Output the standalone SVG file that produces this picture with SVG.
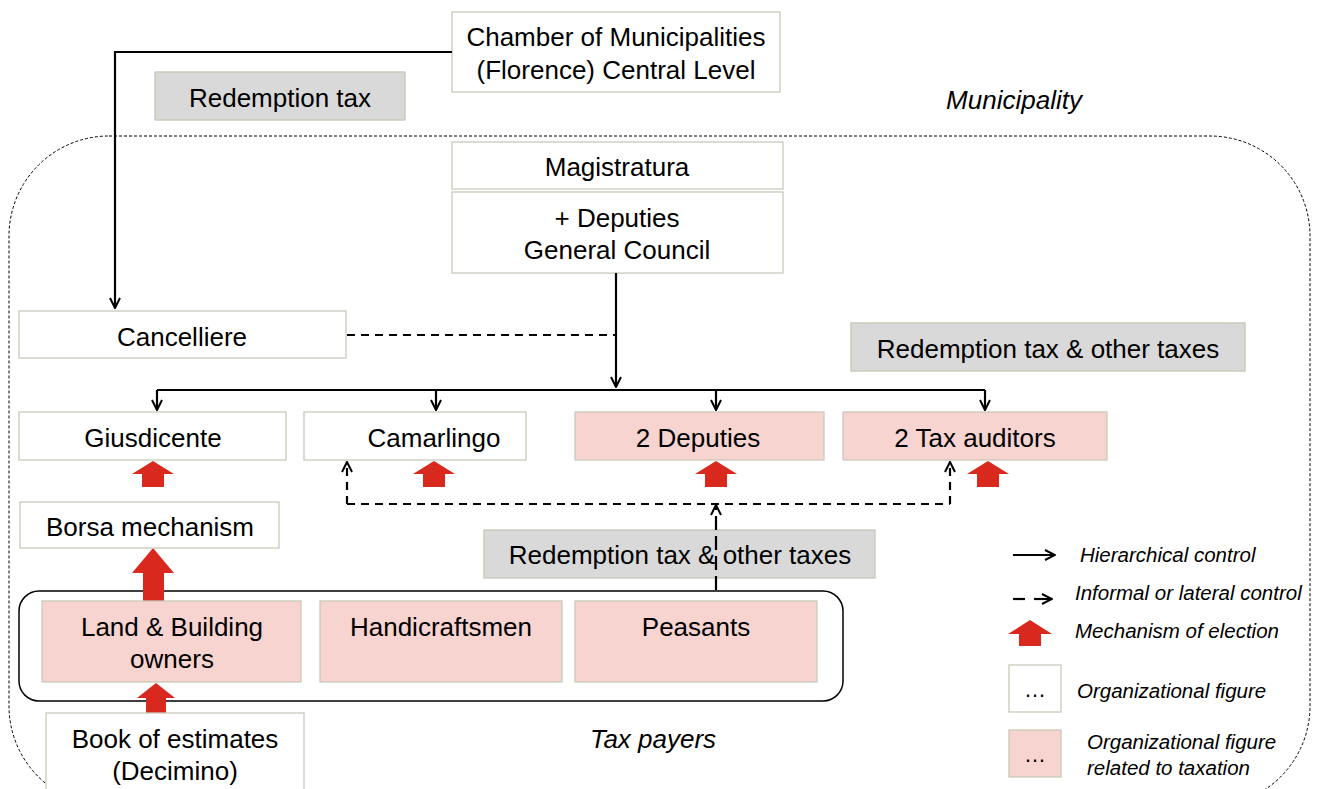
<svg xmlns="http://www.w3.org/2000/svg" width="1318" height="789" viewBox="0 0 1318 789">
<style>
text{font-family:"Liberation Sans",Arial,sans-serif;fill:#000;}
.t{font-size:26px;text-anchor:middle;}
.it{font-size:20.5px;font-style:italic;}
.lb{font-size:26px;font-style:italic;text-anchor:middle;}
.w{fill:#fff;stroke:#c9c9bb;stroke-width:1.3;}
.p{fill:#f7d4d0;stroke:#c9c9bb;stroke-width:1.3;}
.g{fill:#d9d9d9;stroke:#c6c6b4;stroke-width:1.3;}
.s{fill:none;stroke:#000;stroke-width:2.2;}
.d{fill:none;stroke:#000;stroke-width:2;stroke-dasharray:8,6;}
.r{fill:#d9291e;}
</style>
<defs>
<marker id="ah" viewBox="0 0 12 12" refX="11" refY="6" markerWidth="12" markerHeight="12" markerUnits="userSpaceOnUse" orient="auto">
<path d="M1,1 L11,6 L1,11" fill="none" stroke="#000" stroke-width="2"/>
</marker>
<path id="red" d="M-21,13 L0,0 L21,13 L11,13 L11,26 L-11,26 L-11,13 Z"/>
</defs>
<rect x="9" y="136" width="1301" height="670" rx="100" fill="none" stroke="#000" stroke-width="1" stroke-dasharray="3,2"/>
<text class="lb" x="1014" y="109">Municipality</text>
<rect x="19" y="591" width="824" height="110" rx="20" fill="none" stroke="#000" stroke-width="1.5"/>
<text class="lb" x="653" y="748">Tax payers</text>

<g id="chamber"><rect class="w" x="452" y="12" width="328" height="80"/><text class="t" x="616" y="46">Chamber of Municipalities</text><text class="t" x="616" y="79">(Florence) Central Level</text></g>
<g id="redemption-tax"><rect class="g" x="155" y="72" width="250" height="48"/><text class="t" x="280" y="107">Redemption tax</text></g>
<g id="magistratura"><rect class="w" x="452" y="142" width="331" height="47"/><text class="t" x="617" y="176">Magistratura</text></g>
<g id="council"><rect class="w" x="452" y="192" width="331" height="81"/><text class="t" x="617" y="227">+ Deputies</text><text class="t" x="617" y="259">General Council</text></g>
<g id="cancelliere"><rect class="w" x="19" y="311" width="327" height="47"/><text class="t" x="182" y="346">Cancelliere</text></g>
<g id="redemption-other-top"><rect class="g" x="851" y="323" width="394" height="48"/><text class="t" x="1048" y="358">Redemption tax &amp; other taxes</text></g>
<g id="giusdicente"><rect class="w" x="19" y="412" width="267" height="48"/><text class="t" x="153" y="447">Giusdicente</text></g>
<g id="camarlingo"><rect class="w" x="304" y="412" width="222" height="48"/><text class="t" x="434" y="447">Camarlingo</text></g>
<g id="deputies2"><rect class="p" x="575" y="412" width="249" height="48"/><text class="t" x="698" y="447">2 Deputies</text></g>
<g id="taxauditors"><rect class="p" x="843" y="412" width="264" height="48"/><text class="t" x="975" y="447">2 Tax auditors</text></g>
<g id="elections">
<use href="#red" class="r" x="153" y="461"/>
<use href="#red" class="r" x="434" y="461"/>
<use href="#red" class="r" x="716" y="461"/>
<use href="#red" class="r" x="988" y="461"/>
<path class="r" d="M132,573 L153,548 L174,573 L164,573 L164,601 L143,601 L143,573 Z"/>
<path class="r" d="M137,698 L156,683 L175,698 L166,698 L166,713 L146,713 L146,698 Z"/>
</g>
<g id="borsa"><rect class="w" x="20" y="502" width="259" height="46"/><text class="t" x="150" y="536">Borsa mechanism</text></g>
<g id="redemption-other-mid"><rect class="g" x="484" y="530" width="391" height="48"/><text class="t" x="680" y="564">Redemption tax &amp; other taxes</text></g>
<g id="landowners"><rect class="p" x="42" y="601" width="259" height="81"/><text class="t" x="172" y="636">Land &amp; Building</text><text class="t" x="172" y="668">owners</text></g>
<g id="handicraftsmen"><rect class="p" x="320" y="601" width="242" height="81"/><text class="t" x="441" y="636">Handicraftsmen</text></g>
<g id="peasants"><rect class="p" x="575" y="601" width="242" height="81"/><text class="t" x="696" y="636">Peasants</text></g>
<g id="book"><rect class="w" x="46" y="713" width="258" height="90"/><text class="t" x="175" y="748">Book of estimates</text><text class="t" x="175" y="780">(Decimino)</text></g>

<g id="connectors">
<path class="s" d="M452,52 L115,52 L115,308" marker-end="url(#ah)"/>
<path class="s" d="M616,273 L616,387" marker-end="url(#ah)"/>
<path class="s" d="M157,390 L985,390"/>
<path class="s" d="M157,390 L157,410" marker-end="url(#ah)"/>
<path class="s" d="M436,390 L436,410" marker-end="url(#ah)"/>
<path class="s" d="M716,390 L716,410" marker-end="url(#ah)"/>
<path class="s" d="M985,390 L985,410" marker-end="url(#ah)"/>
<path class="d" d="M347,335 L616,335"/>
<path class="d" d="M347,504 L950,504"/>
<path class="s" d="M347,504 L347,462" stroke-dasharray="8,6" marker-end="url(#ah)"/>
<path class="s" d="M950,504 L950,462" stroke-dasharray="8,6" marker-end="url(#ah)"/>
<path class="s" d="M716,590 L716,505" stroke-dasharray="14,6" marker-end="url(#ah)"/>
</g>

<g id="legend">
<path class="s" d="M1013,555 L1055,555" marker-end="url(#ah)"/>
<text class="it" x="1080" y="562">Hierarchical control</text>
<path class="s" d="M1013,599 L1025,599"/>
<path class="s" d="M1034,599 L1052,599" marker-end="url(#ah)"/>
<text class="it" x="1075" y="600">Informal or lateral control</text>
<path class="r" d="M1008,634 L1030,620 L1052,634 L1041,634 L1041,646 L1019,646 L1019,634 Z"/>
<text class="it" x="1075" y="638">Mechanism of election</text>
<rect class="w" x="1009" y="665" width="52" height="47"/><text class="t" x="1035" y="697" style="font-size:22px">…</text>
<text class="it" x="1077" y="698">Organizational figure</text>
<rect class="p" x="1009" y="730" width="52" height="47"/><text class="t" x="1035" y="762" style="font-size:22px">…</text>
<text class="it" x="1087" y="749">Organizational figure</text>
<text class="it" x="1087" y="775">related to taxation</text>
</g>
</svg>
